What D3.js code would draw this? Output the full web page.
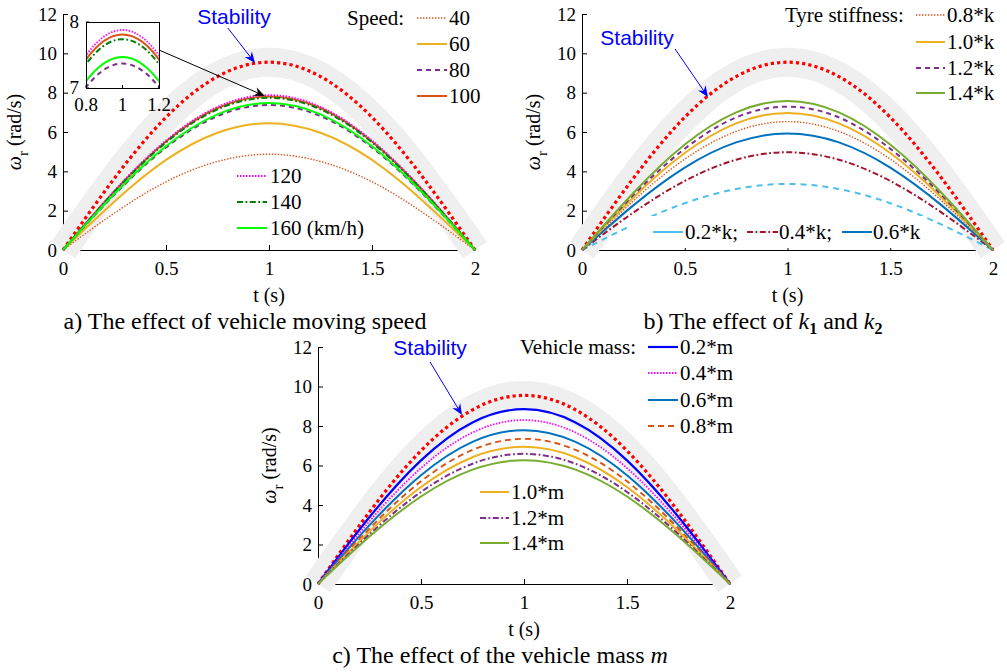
<!DOCTYPE html>
<html><head><meta charset="utf-8">
<script src="https://cdn.jsdelivr.net/npm/d3@7"></script>
<style>body{margin:0;background:#fff} svg{display:block}</style>
</head><body>
<svg id="c" width="1007" height="672"></svg>
<script>
// ---------- data ----------
const tValues = [0, 0.25, 0.5, 0.75, 1, 1.25, 1.5, 1.75, 2];
const xTicks = [0, 0.5, 1, 1.5, 2];
const yTicks = [0, 2, 4, 6, 8, 10, 12];
const insetXTicks = [0.8, 1, 1.2];
const insetYTicks = [7, 8];

const stability = [0, 3.65, 6.75, 8.82, 9.55, 8.82, 6.75, 3.65, 0];

// a) vehicle speed (km/h)
const speedLabels = ["40", "60", "80", "100", "120", "140", "160"];
const speed40  = [0, 1.88, 3.47, 4.50, 4.87, 4.50, 3.47, 1.88, 0];
const speed60  = [0, 2.47, 4.58, 5.96, 6.45, 5.96, 4.58, 2.47, 0];
const speed80  = [0, 2.82, 5.21, 6.81, 7.37, 6.81, 5.21, 2.82, 0];
const speed100 = [0, 2.99, 5.52, 7.22, 7.81, 7.22, 5.52, 2.99, 0];
const speed120 = [0, 3.02, 5.57, 7.28, 7.88, 7.28, 5.57, 3.02, 0];
const speed140 = [0, 2.96, 5.47, 7.15, 7.74, 7.15, 5.47, 2.96, 0];
const speed160 = [0, 2.86, 5.28, 6.90, 7.47, 6.90, 5.28, 2.86, 0];

// b) tyre stiffness
const stiffLabels = ["0.2*k;", "0.4*k;", "0.6*k", "0.8*k", "1.0*k", "1.2*k", "1.4*k"];
const stiff02 = [0, 1.29, 2.38, 3.10, 3.36, 3.10, 2.38, 1.29, 0];
const stiff04 = [0, 1.90, 3.51, 4.59, 4.97, 4.59, 3.51, 1.90, 0];
const stiff06 = [0, 2.27, 4.19, 5.47, 5.92, 5.47, 4.19, 2.27, 0];
const stiff08 = [0, 2.50, 4.62, 6.03, 6.53, 6.03, 4.62, 2.50, 0];
const stiff10 = [0, 2.67, 4.93, 6.44, 6.97, 6.44, 4.93, 2.67, 0];
const stiff12 = [0, 2.79, 5.15, 6.74, 7.29, 6.74, 5.15, 2.79, 0];
const stiff14 = [0, 2.90, 5.36, 7.00, 7.58, 7.00, 5.36, 2.90, 0];

// c) vehicle mass
const massLabels = ["0.2*m", "0.4*m", "0.6*m", "0.8*m", "1.0*m", "1.2*m", "1.4*m"];
const mass02 = [0, 3.39, 6.26, 8.18, 8.85, 8.18, 6.26, 3.39, 0];
const mass04 = [0, 3.18, 5.87, 7.67, 8.30, 7.67, 5.87, 3.18, 0];
const mass06 = [0, 2.98, 5.51, 7.20, 7.79, 7.20, 5.51, 2.98, 0];
const mass08 = [0, 2.81, 5.20, 6.79, 7.35, 6.79, 5.20, 2.81, 0];
const mass10 = [0, 2.66, 4.91, 6.42, 6.95, 6.42, 4.91, 2.66, 0];
const mass12 = [0, 2.52, 4.66, 6.09, 6.59, 6.09, 4.66, 2.52, 0];
const mass14 = [0, 2.40, 4.43, 5.79, 6.27, 5.79, 4.43, 2.40, 0];

// ---------- styles ----------
const SERIF = "'Liberation Serif','Times New Roman',serif";
const SANS = "'Liberation Sans',Arial,sans-serif";
const S = {
  stab:   {color: "#ff0000", width: 3.2, dash: "3.2,3.1"},
  dotO:   {color: "#d95319", width: 1.4, dash: "1.4,1.6"},
  yel:    {color: "#edb120", width: 2, dash: null},
  purD:   {color: "#7e2f8e", width: 2, dash: "5,4"},
  redS:   {color: "#d95319", width: 2, dash: null},
  magDot: {color: "#ff00ff", width: 1.8, dash: "1.5,1.5"},
  grnDD:  {color: "#008000", width: 2, dash: "6,2.5,1.8,2.5"},
  lime:   {color: "#00ff00", width: 2, dash: null},
  cyanD:  {color: "#4dbeee", width: 2, dash: "6,5"},
  cyanS:  {color: "#4dbeee", width: 2, dash: null},
  wineDD: {color: "#a2142f", width: 2, dash: "6,2.5,1.8,2.5"},
  blueM:  {color: "#0072bd", width: 2, dash: null},
  green:  {color: "#77ac30", width: 2, dash: null},
  blue:   {color: "#0000ff", width: 2.2, dash: null},
  orD:    {color: "#d95319", width: 1.9, dash: "6,4"},
  purDD:  {color: "#7e2f8e", width: 2, dash: "6,2.5,1.8,2.5"}
};

const svg = d3.select("#c");

function styled(sel, st) {
  sel.attr("fill", "none").attr("stroke", st.color).attr("stroke-width", st.width);
  if (st.dash) sel.attr("stroke-dasharray", st.dash);
  return sel;
}

function drawArrow(g, x1, y1, x2, y2, color) {
  const dx = x2 - x1, dy = y2 - y1, L = Math.hypot(dx, dy);
  const ux = dx / L, uy = dy / L, px = -uy, py = ux;
  const hl = 11, hw = 4.6, notch = 3.5;
  g.append("line").attr("x1", x1).attr("y1", y1)
    .attr("x2", x2 - ux * (hl - notch)).attr("y2", y2 - uy * (hl - notch))
    .attr("stroke", color).attr("stroke-width", 1);
  const bx = x2 - ux * hl, by = y2 - uy * hl;
  const nx = x2 - ux * (hl - notch), ny = y2 - uy * (hl - notch);
  g.append("path").attr("d",
    `M${x2},${y2}L${bx + px * hw},${by + py * hw}L${nx},${ny}L${bx - px * hw},${by - py * hw}Z`)
    .attr("fill", color).attr("stroke", "none");
}

function legendItem(g, x1, x2, yy, st, label, lx) {
  styled(g.append("line").attr("x1", x1).attr("x2", x2).attr("y1", yy).attr("y2", yy), st);
  g.append("text").attr("x", lx).attr("y", yy).attr("dominant-baseline", "central")
    .attr("font-family", SERIF).attr("font-size", 21).attr("fill", "#000").text(label);
}

function makePanel(p) {
  const g = svg.append("g");
  const x = d3.scaleLinear().domain([0, 2]).range([p.left, p.right]);
  const y = d3.scaleLinear().domain([0, 12]).range([p.bottom, p.top]);

  const ax = g.append("g").attr("transform", `translate(0,${p.bottom})`)
    .call(d3.axisBottom(x).tickValues(xTicks).tickFormat(d => String(d))
      .tickSizeInner(-5).tickSizeOuter(0).tickPadding(12));
  const ay = g.append("g").attr("transform", `translate(${p.left},0)`)
    .call(d3.axisLeft(y).tickValues(yTicks).tickFormat(d => String(d))
      .tickSizeInner(-5).tickSizeOuter(0).tickPadding(6));
  [ax, ay].forEach(a => {
    a.attr("font-family", SERIF).attr("font-size", 19);
    a.selectAll("text").attr("fill", "#000");
    a.selectAll("line,path").attr("stroke", "#000");
  });

  // axis labels
  g.append("text").attr("x", (p.left + p.right) / 2).attr("y", p.bottom + 52)
    .attr("text-anchor", "middle").attr("font-family", SERIF).attr("font-size", 20)
    .attr("fill", "#000").text("t (s)");
  const yl = g.append("text")
    .attr("transform", `translate(${p.left - 42},${(p.top + p.bottom) / 2}) rotate(-90)`)
    .attr("text-anchor", "middle").attr("font-family", SERIF).attr("font-size", 20).attr("fill", "#000");
  yl.append("tspan").attr("font-style", "italic").text("ω");
  yl.append("tspan").attr("dy", 7).attr("font-size", 15).text("r");
  yl.append("tspan").attr("dy", -7).text(" (rad/s)");

  const line = d3.line().x((d, i) => x(tValues[i])).y(d => y(d)).curve(d3.curveNatural);

  // gray stability band
  g.append("path").attr("d", line(stability)).attr("fill", "none")
    .attr("stroke", "#efefef").attr("stroke-width", 29).attr("stroke-linecap", "butt");

  styled(g.append("path").attr("d", line(stability)), S.stab);
  p.series.forEach(s => styled(g.append("path").attr("d", line(s.v)), s.st));

  return {g, x, y, line};
}

// ---------- panel a ----------
const seriesA = [
  {v: speed40, st: S.dotO}, {v: speed60, st: S.yel}, {v: speed80, st: S.purD},
  {v: speed100, st: S.redS}, {v: speed120, st: S.magDot}, {v: speed140, st: S.grnDD},
  {v: speed160, st: S.lime}
];
const A = makePanel({left: 63, right: 475, top: 14, bottom: 250, series: seriesA});
{
  const g = A.g;
  g.append("text").attr("x", 347).attr("y", 18).attr("dominant-baseline", "central")
    .attr("font-family", SERIF).attr("font-size", 21).attr("fill", "#000").text("Speed:");
  [18, 44, 70, 96].forEach((yy, i) => legendItem(g, 417, 447, yy, seriesA[i].st, speedLabels[i], 449));
  [176, 202, 228].forEach((yy, i) =>
    legendItem(g, 237, 267, yy, seriesA[i + 4].st, speedLabels[i + 4] + (i === 2 ? " (km/h)" : ""), 270));

  // inset
  const xi = d3.scaleLinear().domain([0.8, 1.2]).range([86, 159]);
  const yi = d3.scaleLinear().domain([7, 8]).range([88, 22]);
  const ig = g.append("g");
  ig.append("rect").attr("x", xi(0.8)).attr("y", yi(8)).attr("width", xi(1.2) - xi(0.8))
    .attr("height", yi(7) - yi(8)).attr("fill", "#fff");
  svg.append("defs").append("clipPath").attr("id", "insetClip").append("rect")
    .attr("x", xi(0.8)).attr("y", yi(8)).attr("width", xi(1.2) - xi(0.8)).attr("height", yi(7) - yi(8));
  const il = d3.line().x((d, i) => xi(tValues[i])).y(d => yi(d)).curve(d3.curveNatural);
  const cg = ig.append("g").attr("clip-path", "url(#insetClip)");
  [seriesA[2], seriesA[6], seriesA[3], seriesA[5], seriesA[4]].forEach(s =>
    styled(cg.append("path").attr("d", il(s.v)), s.st));
  ig.append("rect").attr("x", xi(0.8) + 0.5).attr("y", yi(8) + 0.5).attr("width", xi(1.2) - xi(0.8))
    .attr("height", yi(7) - yi(8)).attr("fill", "none").attr("stroke", "#000").attr("stroke-width", 1);
  insetXTicks.forEach(t => {
    ig.append("line").attr("x1", xi(t)).attr("x2", xi(t)).attr("y1", yi(7)).attr("y2", yi(7) - 3).attr("stroke", "#000");
    ig.append("text").attr("x", xi(t)).attr("y", yi(7) + 10).attr("dy", "0.71em").attr("text-anchor", "middle")
      .attr("font-family", SERIF).attr("font-size", 19).attr("fill", "#000").text(String(t));
  });
  insetYTicks.forEach(v => {
    ig.append("line").attr("x1", xi(0.8)).attr("x2", xi(0.8) + 3).attr("y1", yi(v)).attr("y2", yi(v)).attr("stroke", "#000");
    ig.append("text").attr("x", xi(0.8) - 7).attr("y", yi(v)).attr("dy", "0.32em").attr("text-anchor", "end")
      .attr("font-family", SERIF).attr("font-size", 19).attr("fill", "#000").text(String(v));
  });

  drawArrow(g, xi(1.2), A.y(10.17), A.x(0.98), A.y(7.83), "#000");
  drawArrow(g, A.x(0.80), A.y(11.29), A.x(0.932), A.y(9.51), "#0000ff");
  g.append("text").attr("x", A.x(0.83)).attr("y", A.y(11.85)).attr("dominant-baseline", "central")
    .attr("text-anchor", "middle").attr("font-family", SANS).attr("font-size", 21)
    .attr("fill", "#0000ff").text("Stability");
}

// ---------- panel b ----------
const seriesB = [
  {v: stiff02, st: S.cyanD}, {v: stiff04, st: S.wineDD}, {v: stiff06, st: S.blueM},
  {v: stiff08, st: S.dotO}, {v: stiff10, st: S.yel}, {v: stiff12, st: S.purD}, {v: stiff14, st: S.green}
];
const B = makePanel({left: 582, right: 993, top: 14, bottom: 250, series: seriesB});
{
  const g = B.g;
  g.append("text").attr("x", 785).attr("y", 15).attr("dominant-baseline", "central")
    .attr("font-family", SERIF).attr("font-size", 21).attr("fill", "#000").text("Tyre stiffness:");
  [15, 42, 68, 93].forEach((yy, i) => legendItem(g, 916, 945, yy, seriesB[i + 3].st, stiffLabels[i + 3], 947));
  g.append("rect").attr("x", 630).attr("y", 216).attr("width", 295).attr("height", 32).attr("fill", "#fff");
  legendItem(g, 653, 683, 232, S.cyanS, stiffLabels[0], 685);
  legendItem(g, 747, 778, 232, seriesB[1].st, stiffLabels[1], 779);
  legendItem(g, 842, 872, 232, seriesB[2].st, stiffLabels[2], 873);

  drawArrow(g, B.x(0.453), B.y(10.22), B.x(0.613), B.y(7.78), "#0000ff");
  g.append("text").attr("x", B.x(0.268)).attr("y", B.y(10.8)).attr("dominant-baseline", "central")
    .attr("text-anchor", "middle").attr("font-family", SANS).attr("font-size", 21)
    .attr("fill", "#0000ff").text("Stability");
}

// ---------- panel c ----------
const seriesC = [
  {v: mass02, st: S.blue}, {v: mass04, st: S.magDot}, {v: mass06, st: S.blueM}, {v: mass08, st: S.orD},
  {v: mass10, st: S.yel}, {v: mass12, st: S.purDD}, {v: mass14, st: S.green}
];
const C = makePanel({left: 318, right: 730, top: 347, bottom: 584, series: seriesC});
{
  const g = C.g;
  g.append("text").attr("x", 520).attr("y", 347).attr("dominant-baseline", "central")
    .attr("font-family", SERIF).attr("font-size", 21).attr("fill", "#000").text("Vehicle mass:");
  [347, 373, 400, 426].forEach((yy, i) => legendItem(g, 648, 678, yy, seriesC[i].st, massLabels[i], 680));
  [492, 518, 543].forEach((yy, i) => legendItem(g, 480, 509, yy, seriesC[i + 4].st, massLabels[i + 4], 511));

  drawArrow(g, C.x(0.544), C.y(11.24), C.x(0.699), C.y(8.56), "#0000ff");
  g.append("text").attr("x", C.x(0.544)).attr("y", C.y(11.95)).attr("dominant-baseline", "central")
    .attr("text-anchor", "middle").attr("font-family", SANS).attr("font-size", 21)
    .attr("fill", "#0000ff").text("Stability");
}

// ---------- captions ----------
function caption(xc, yb, parts) {
  const t = svg.append("text").attr("x", xc).attr("y", yb).attr("text-anchor", "middle")
    .attr("font-family", SERIF).attr("font-size", 24).attr("fill", "#000");
  parts.forEach(pt => {
    const s = t.append("tspan").text(pt.t);
    if (pt.it) s.attr("font-style", "italic");
    if (pt.sub) s.attr("font-size", 16).attr("dy", 5).attr("font-weight", "bold");
    if (pt.up) s.attr("dy", -5);
  });
}
caption(245, 329, [{t: "a) The effect of vehicle moving speed"}]);
caption(763, 329, [{t: "b) The effect of "}, {t: "k", it: true}, {t: "1", sub: true},
  {t: " and ", up: true}, {t: "k", it: true}, {t: "2", sub: true}]);
caption(500, 663, [{t: "c) The effect of the vehicle mass "}, {t: "m", it: true}]);
</script>
</body></html>
